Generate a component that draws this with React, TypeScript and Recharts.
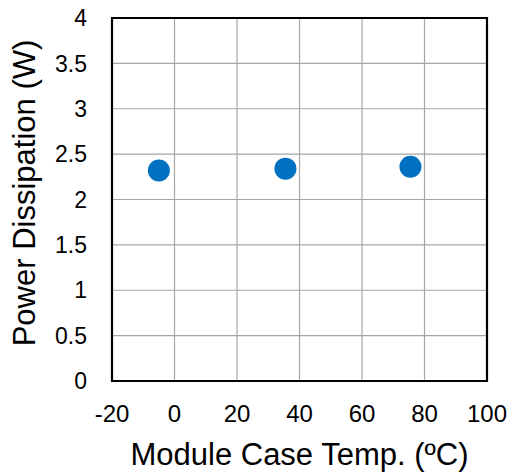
import { ScatterChart, Scatter, XAxis, YAxis, CartesianGrid, ReferenceArea, Label } from "recharts"

const temps = [-5, 35.5, 75.5]
const powers = [2.32, 2.34, 2.36]
const xTicks = [-20, 0, 20, 40, 60, 80, 100]
const yTicks = [0, 0.5, 1, 1.5, 2, 2.5, 3, 3.5, 4]

const data = temps.map((t, i) => ({ temp: t, power: powers[i] }))

const font = "'Liberation Sans', Arial, sans-serif"

const Dot = (props: any) => <circle cx={props.cx} cy={props.cy} r={11} fill="#0070c0" />

export default function App() {
  return (
    <div style={{ position: "fixed", left: 0, top: 0, width: 512, height: 472, background: "#fff" }}>
      <ScatterChart width={512} height={472} margin={{ top: 18, right: 25, bottom: 0, left: 0 }}>
        <CartesianGrid stroke="#a6a6a6" strokeWidth={1.2} />
        <XAxis
          type="number"
          dataKey="temp"
          domain={[-20, 100]}
          ticks={xTicks}
          axisLine={false}
          tickLine={false}
          tickSize={0}
          tickMargin={24}
          height={91}
          tick={{ fill: "#000", fontSize: 24, fontFamily: font }}
          interval={0}
        >
          <Label
            content={({ viewBox }: any) => (
              <text
                x={viewBox.x + viewBox.width / 2}
                y={465}
                textAnchor="middle"
                fill="#000"
                fontSize={31}
                fontFamily={font}
              >
                Module Case Temp. (ºC)
              </text>
            )}
          />
        </XAxis>
        <YAxis
          type="number"
          dataKey="power"
          domain={[0, 4]}
          ticks={yTicks}
          axisLine={false}
          tickLine={false}
          tickSize={0}
          tickMargin={25}
          width={112}
          tick={{ fill: "#000", fontSize: 23, fontFamily: font }}
          interval={0}
        >
          <Label
            content={() => (
              <text
                x={35}
                y={193}
                transform="rotate(-90 35 193)"
                textAnchor="middle"
                fill="#000"
                fontSize={31}
                fontFamily={font}
              >
                Power Dissipation (W)
              </text>
            )}
          />
        </YAxis>
        <ReferenceArea x1={-20} x2={100} y1={0} y2={4} fill="none" stroke="#000" strokeWidth={2.2} ifOverflow="visible" />
        <Scatter data={data} shape={Dot} isAnimationActive={false} />
      </ScatterChart>
    </div>
  )
}
